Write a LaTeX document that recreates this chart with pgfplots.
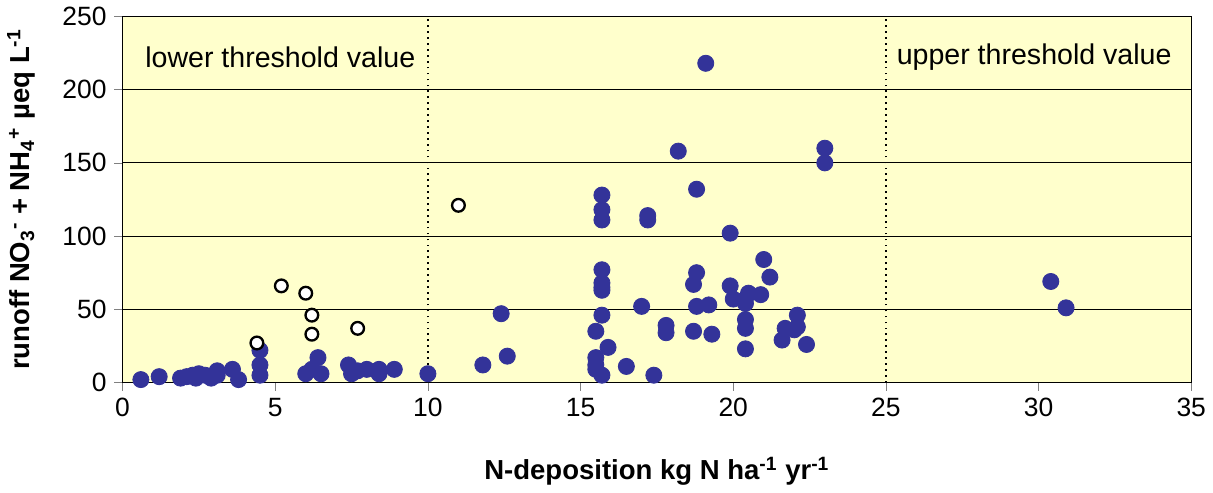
\documentclass[border=0pt]{standalone}
\usepackage{pgfplots}
\pgfplotsset{compat=1.18}
\usepackage{fontspec}
\setmainfont{Liberation Sans}
\definecolor{bg}{HTML}{FFFFCC}
\definecolor{dot}{HTML}{333399}
\begin{document}
\begin{tikzpicture}
\begin{axis}[scale only axis, width=505pt, height=173pt,
 xmin=0,xmax=35,ymin=0,ymax=250,
 xtick={0,5,...,35}, ytick={0,50,...,250},
 ymajorgrids, grid style={black,line width=0.5pt},
 axis background/.style={fill=bg},
 axis line style={line width=0.6pt},
 tick align=outside, xtick pos=bottom, ytick pos=left,
 major tick length=4pt,
 ticklabel style={font=\fontsize{12.5}{14}\selectfont},
 /pgf/number format/assume math mode=true,
 xlabel={\textbf{N-deposition kg N ha\textsuperscript{-1} yr\textsuperscript{-1}}},
 ylabel={\textbf{runoff NO\textsubscript{3}\textsuperscript{-} + NH\textsubscript{4}\textsuperscript{+} µeq L\textsuperscript{-1}}},
 label style={font=\fontsize{13}{15}\selectfont},
 xlabel style={yshift=-12pt},
 ylabel style={yshift=6pt},
 clip=false]
\draw[dotted, line width=0.8pt] (axis cs:10,0) -- (axis cs:10,250);
\draw[dotted, line width=0.8pt] (axis cs:25,0) -- (axis cs:25,250);
\node[anchor=west,font=\fontsize{13.5}{15}\selectfont] at (axis cs:0.5,222) {lower threshold value};
\node[anchor=east,font=\fontsize{13.5}{15}\selectfont] at (axis cs:34.6,222) {upper threshold value};
\addplot[only marks, mark=*, mark size=3.8pt, mark options={fill=dot,draw=dot}] coordinates {
(0.6,2)(1.2,4)(1.9,3)(2.1,4)(2.3,5)(2.4,3)(2.5,6)(2.7,5)(2.9,3)(3.1,5)(3.1,8)(3.6,9)(3.8,2)
(4.5,5)(4.5,12)(4.5,22)(6.0,6)(6.2,9)(6.4,17)(6.5,6)(7.4,12)(7.5,6)(7.7,8)(8.0,9)(8.4,6)(8.4,9)(8.9,9)(10.0,6)
(11.8,12)(12.4,47)(12.6,18)(15.5,35)(15.5,17)(15.5,12)(15.5,9)(15.7,5)(15.7,128)(15.7,118)(15.7,111)
(15.7,77)(15.7,68)(15.7,65)(15.7,63)(15.7,46)(15.9,24)(16.5,11)(17.0,52)(17.2,114)(17.2,111)(17.4,5)
(17.8,39)(17.8,34)(18.2,158)(18.7,67)(18.7,35)(18.8,75)(18.8,52)(18.8,132)(19.1,218)(19.2,53)(19.3,33)
(19.9,102)(19.9,66)(20.0,57)(20.4,57)(20.4,54)(20.4,43)(20.4,37)(20.4,23)(20.5,61)(20.9,60)(21.0,84)
(21.2,72)(21.6,29)(21.7,37)(22.0,36)(22.1,46)(22.1,38)(22.4,26)(23.0,160)(23.0,150)(30.4,69)(30.9,51)};
\addplot[only marks, mark=*, mark size=3pt, mark options={fill=white,draw=black,line width=1.1pt}] coordinates {
(4.4,27)(5.2,66)(6.0,61)(6.2,46)(6.2,33)(7.7,37)(11.0,121)};
\end{axis}
\end{tikzpicture}
\end{document}
